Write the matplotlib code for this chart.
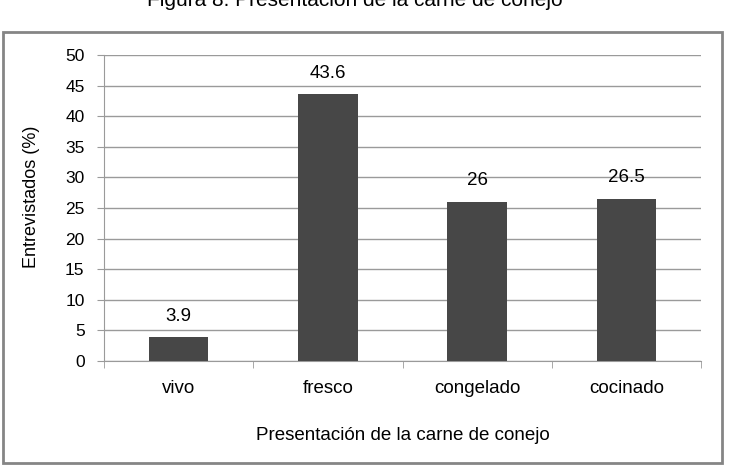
import numpy as np
import matplotlib.pyplot as plt
from matplotlib.patches import Rectangle

plt.rcParams['font.family'] = ['Liberation Sans', 'DejaVu Sans']

# datos
categorias = ['vivo', 'fresco', 'congelado', 'cocinado']
valores = [3.9, 43.6, 26, 26.5]
etiquetas = ['3.9', '43.6', '26', '26.5']

W, H = 730, 474
fig = plt.figure(figsize=(W / 100, H / 100), dpi=100)

# marco gris alrededor del grafico
fig.patches.append(Rectangle((3 / W, 1 - 463 / H), 719 / W, 431 / H,
                             transform=fig.transFigure, fill=False,
                             edgecolor='#858585', linewidth=2))

ax = fig.add_axes([104 / W, 1 - 361 / H, 597 / W, 306 / H])
x = np.arange(len(categorias))
ax.bar(x, valores, width=0.4, color='#474747', zorder=3)

for xi, v, t in zip(x, valores, etiquetas):
    ax.annotate(t, (xi, v), xytext=(0, 9), textcoords='offset points',
                ha='center', va='bottom', fontsize=13.5)

ax.set_xlim(-0.5, 3.5)
ax.set_ylim(0, 50)
ax.set_yticks(np.arange(0, 51, 5))
ax.yaxis.grid(True, color='#9a9a9a', linewidth=1, zorder=0)
ax.set_axisbelow(True)

ax.set_xticks(x)
ax.set_xticklabels(categorias, fontsize=13.5)
ax.set_xticks(np.arange(-0.5, 3.6, 1), minor=True)
ax.tick_params(axis='x', which='major', length=0, pad=14)
ax.tick_params(axis='x', which='minor', length=5, color='#9a9a9a')
ax.tick_params(axis='y', length=5, color='#9a9a9a', labelsize=12.5, pad=9)

for s in ['top', 'right']:
    ax.spines[s].set_visible(False)
for s in ['left', 'bottom']:
    ax.spines[s].set_color('#9a9a9a')

fig.text(32 / W, 1 - 197 / H, 'Entrevistados (%)', rotation=90,
         ha='center', va='center', fontsize=13)
fig.text(403 / W, 1 - 436 / H, 'Presentación de la carne de conejo',
         ha='center', va='center', fontsize=13.5)
# titulo cortado arriba, como en la imagen original
fig.text(355 / W, 1 - 6 / H, 'Figura 8. Presentación de la carne de conejo',
         ha='center', va='baseline', fontsize=15)

fig.savefig('out.png', dpi=100)
